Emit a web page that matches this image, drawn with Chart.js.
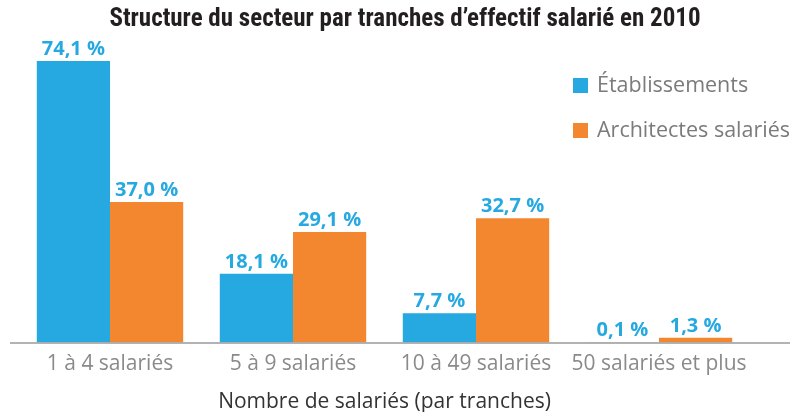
<!DOCTYPE html>
<html lang="fr">
<head>
<meta charset="utf-8">
<script src="https://cdn.jsdelivr.net/npm/chart.js@4/dist/chart.umd.min.js"></script>
<style>
  html, body { margin: 0; padding: 0; background: #ffffff; }
  #wrap { width: 790px; height: 412px; position: relative; }
</style>
</head>
<body>
<div id="wrap"><canvas id="c" width="790" height="412"></canvas></div>
<script>
// Tranches d'effectif salarié (axe des catégories)
const categories = ['1 à 4 salariés', '5 à 9 salariés', '10 à 49 salariés', '50 salariés et plus'];
// Parts en pourcentage
const etablissements = [74.1, 18.1, 7.7, 0.1];
const architectesSalaries = [37.0, 29.1, 32.7, 1.3];
const seriesNames = ['Établissements', 'Architectes salariés'];
const chartTitle = 'Structure du secteur par tranches d\u2019effectif salarié en 2010';

const BLUE = '#26a9e0';
const ORANGE = '#f3872f';
const LABEL_FONT = '"Open Sans", "DejaVu Sans", sans-serif';
const TITLE_FONT = '"Liberation Sans Narrow", "Roboto Condensed", "DejaVu Sans Condensed", sans-serif';

const fmt = v => v.toFixed(1).replace('.', ',') + ' %';

// Titre, valeurs au-dessus des barres, ligne de base et légende à droite
const decorations = {
  id: 'decorations',
  afterDatasetsDraw(chart) {
    const ctx = chart.ctx;
    const area = chart.chartArea;
    ctx.save();

    // titre
    ctx.font = 'bold 25px ' + TITLE_FONT;
    ctx.fillStyle = '#231f20';
    ctx.textAlign = 'center';
    ctx.textBaseline = 'middle';
    ctx.fillText(chartTitle, 405, 20);

    // ligne de base
    ctx.strokeStyle = '#9a9a9a';
    ctx.lineWidth = 1.5;
    ctx.beginPath();
    ctx.moveTo(10, area.bottom + 0.5);
    ctx.lineTo(chart.width, area.bottom + 0.5);
    ctx.stroke();

    // étiquettes de valeur
    ctx.font = 'bold 20px ' + LABEL_FONT;
    ctx.fillStyle = BLUE;
    ctx.textAlign = 'center';
    ctx.textBaseline = 'alphabetic';
    chart.data.datasets.forEach((ds, i) => {
      chart.getDatasetMeta(i).data.forEach((bar, j) => {
        ctx.fillText(fmt(ds.data[j]), bar.x, bar.y - 6);
      });
    });

    // légende
    ctx.font = '21.5px ' + LABEL_FONT;
    ctx.textAlign = 'left';
    ctx.textBaseline = 'middle';
    const rows = [86, 131];
    chart.data.datasets.forEach((ds, i) => {
      ctx.fillStyle = ds.backgroundColor;
      ctx.fillRect(573, rows[i] - 8, 15, 15);
      ctx.fillStyle = '#7b7b7b';
      ctx.fillText(ds.label, 597, rows[i]);
    });
    ctx.restore();
  }
};

new Chart(document.getElementById('c'), {
  type: 'bar',
  data: {
    labels: categories,
    datasets: [
      { label: seriesNames[0], data: etablissements, backgroundColor: BLUE },
      { label: seriesNames[1], data: architectesSalaries, backgroundColor: ORANGE }
    ]
  },
  options: {
    responsive: false,
    animation: false,
    devicePixelRatio: 1,
    layout: { padding: { left: 18.5, right: 39.5, top: 61, bottom: -3 } },
    datasets: { bar: { categoryPercentage: 0.8, barPercentage: 1.0 } },
    plugins: {
      legend: { display: false },
      tooltip: { enabled: false },
      title: { display: false }
    },
    scales: {
      x: {
        grid: { display: false },
        border: { display: false },
        ticks: { color: '#8a8a8a', font: { family: LABEL_FONT, size: 21 }, padding: 1 },
        title: {
          display: true,
          text: 'Nombre de salariés (par tranches)',
          color: '#333333',
          font: { family: LABEL_FONT, size: 21 },
          padding: { top: 12, bottom: 0 }
        }
      },
      y: {
        display: false,
        min: 0,
        max: 74.1
      }
    }
  },
  plugins: [decorations]
});
</script>
</body>
</html>
